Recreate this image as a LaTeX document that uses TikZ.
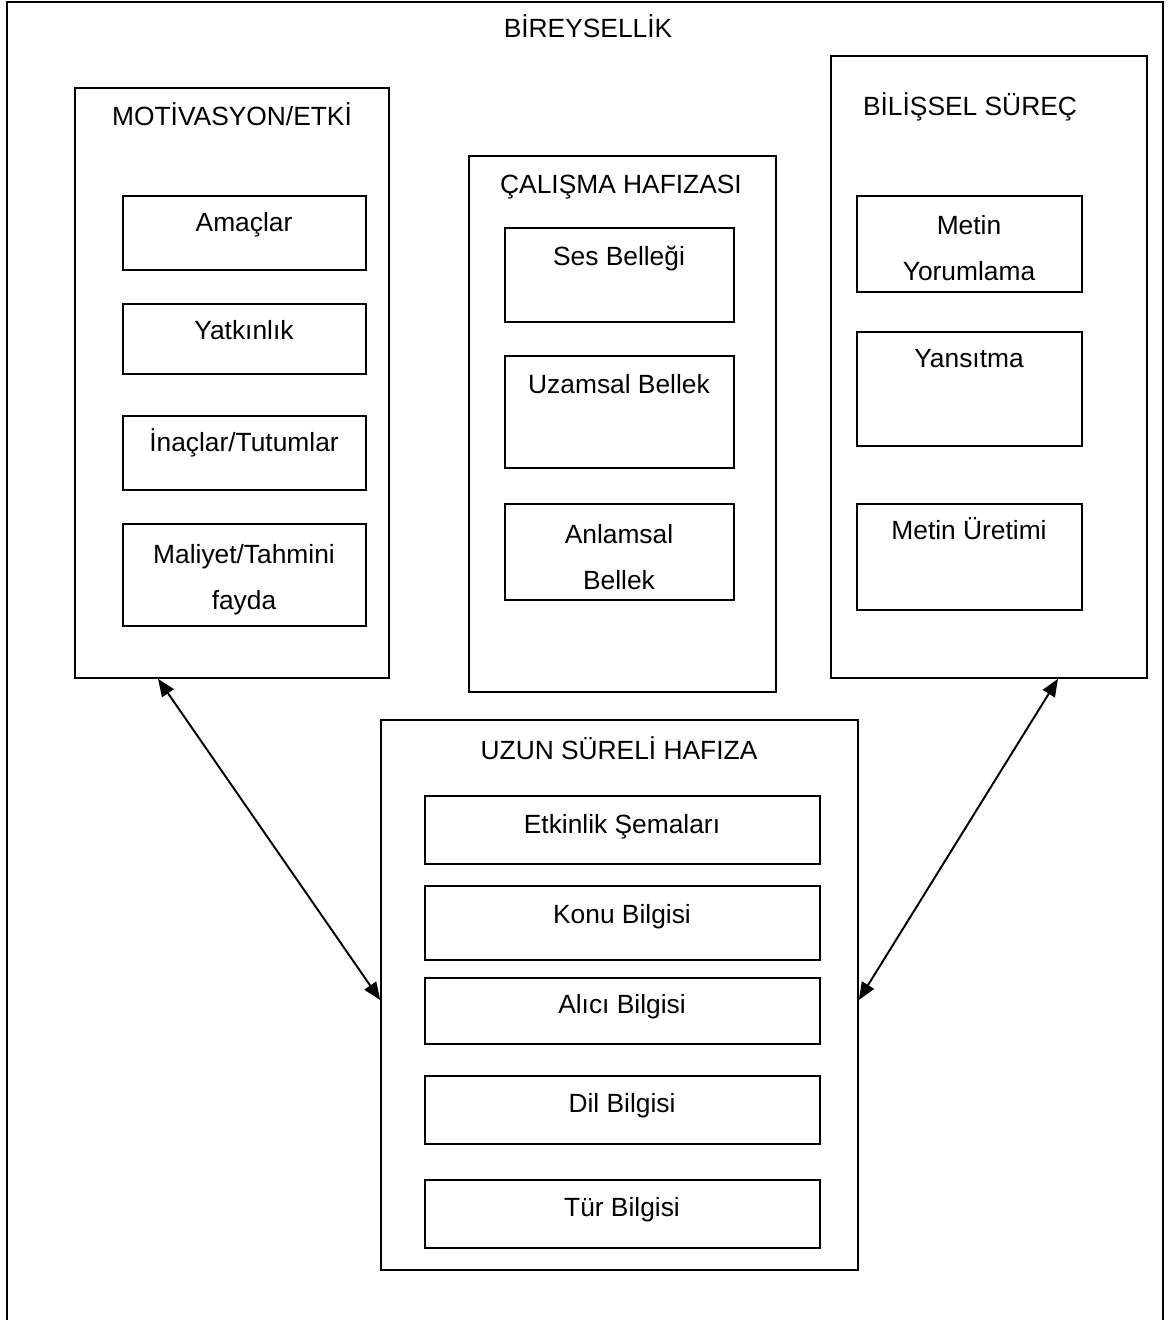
\documentclass[tikz,border=0pt]{standalone}
\usepackage{fontspec}
\setmainfont{Liberation Sans}
\usetikzlibrary{arrows.meta,fit}

\tikzset{
  frame/.style={draw,line width=0.9pt,inner sep=0pt},
  lbl/.style={align=center,inner sep=0pt,text height=0.72em,text depth=0pt,
    font=\fontsize{15}{26.2}\selectfont},
  link/.style={line width=1.1pt,{Triangle[length=10pt,width=8pt]}-{Triangle[length=10pt,width=8pt]}}
}

\begin{document}
\begin{tikzpicture}[x=0.02cm,y=-0.02cm]
\useasboundingbox (0,0) rectangle (1171,1320);

% outer frame, open at the bottom
\draw[line width=0.9pt] (7,1320) -- (7,2) -- (1163,2) -- (1163,1320);
\node[lbl] (birey) at (588,31) {BİREYSELLİK};

% motivasyon
\node[frame,fit={(75,88) (389,678)}] (motiv) {};
\node[lbl] (motiv-t) at (232,119) {MOTİVASYON/ETKİ};
\node[frame,fit={(123,196) (366,270)}] (amac) {};
\node[lbl] (amac-t) at (244,225) {Amaçlar};
\node[frame,fit={(123,304) (366,374)}] (yatk) {};
\node[lbl] (yatk-t) at (244,333) {Yatkınlık};
\node[frame,fit={(123,416) (366,490)}] (inanc) {};
\node[lbl] (inanc-t) at (244,445) {İnaçlar/Tutumlar};
\node[frame,fit={(123,524) (366,626)}] (maliyet) {};
\node[lbl] (maliyet-t) at (244,603) {Maliyet/Tahmini\\fayda};

% calisma hafizasi
\node[frame,fit={(469,156) (776,692)}] (calis) {};
\node[lbl] (calis-t) at (621,187) {ÇALIŞMA HAFIZASI};
\node[frame,fit={(505,228) (734,322)}] (ses) {};
\node[lbl] (ses-t) at (619,259) {Ses Belleği};
\node[frame,fit={(505,356) (734,468)}] (uzamsal) {};
\node[lbl] (uzamsal-t) at (619,387) {Uzamsal Bellek};
\node[frame,fit={(505,504) (734,600)}] (anlam) {};
\node[lbl] (anlam-t) at (619,583) {Anlamsal\\Bellek};

% bilissel surec
\node[frame,fit={(831,56) (1147,678)}] (bilis) {};
\node[lbl] (bilis-t) at (970,109) {BİLİŞSEL SÜREÇ};
\node[frame,fit={(857,196) (1082,292)}] (yorum) {};
\node[lbl] (yorum-t) at (969,274) {Metin\\Yorumlama};
\node[frame,fit={(857,332) (1082,446)}] (yansit) {};
\node[lbl] (yansit-t) at (969,361) {Yansıtma};
\node[frame,fit={(857,504) (1082,610)}] (uretim) {};
\node[lbl] (uretim-t) at (969,533) {Metin Üretimi};

% uzun sureli hafiza
\node[frame,fit={(381,720) (858,1270)}] (uzun) {};
\node[lbl] (uzun-t) at (619,753) {UZUN SÜRELİ HAFIZA};
\node[frame,fit={(425,796) (820,864)}] (etkin) {};
\node[lbl] (etkin-t) at (622,827) {Etkinlik Şemaları};
\node[frame,fit={(425,886) (820,960)}] (konu) {};
\node[lbl] (konu-t) at (622,917) {Konu Bilgisi};
\node[frame,fit={(425,978) (820,1044)}] (alici) {};
\node[lbl] (alici-t) at (622,1007) {Alıcı Bilgisi};
\node[frame,fit={(425,1076) (820,1144)}] (dil) {};
\node[lbl] (dil-t) at (622,1106) {Dil Bilgisi};
\node[frame,fit={(425,1180) (820,1248)}] (tur) {};
\node[lbl] (tur-t) at (622,1210) {Tür Bilgisi};

\draw[link] (158,0 |- motiv.south) -- (uzun.west |- 0,1000);
\draw[link] (1058,0 |- bilis.south) -- (uzun.east |- 0,1000);

\end{tikzpicture}
\end{document}
